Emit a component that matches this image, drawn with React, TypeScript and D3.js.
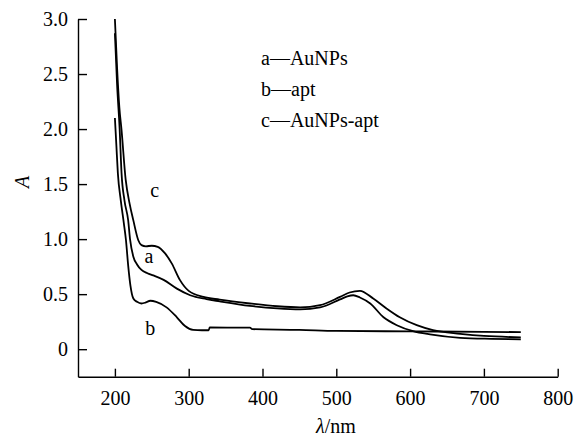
import React, { useEffect, useRef } from "react";
import * as d3 from "d3";

const xTicks = [200, 300, 400, 500, 600, 700, 800];
const yTicks = [0, 0.5, 1.0, 1.5, 2.0, 2.5, 3.0];

// curve a — AuNPs
const aWave = [200, 203, 206.5, 209, 213, 218, 220.5, 225, 230, 236, 244, 252, 266, 284, 302, 324, 342, 383, 420, 451, 478, 505, 515, 523, 532, 546, 564, 582, 604, 627, 668, 710, 750];
const aAbs = [2.87, 2.4, 1.99, 1.6, 1.35, 1.17, 1.0, 0.84, 0.77, 0.72, 0.69, 0.67, 0.63, 0.55, 0.49, 0.455, 0.435, 0.394, 0.37, 0.361, 0.379, 0.452, 0.48, 0.49, 0.47, 0.415, 0.29, 0.218, 0.164, 0.134, 0.103, 0.094, 0.09];

// curve b — apt
const bWave = [200, 202, 204, 208, 212, 215, 218, 221, 225, 230, 236, 242, 248, 256, 270, 284, 295, 306, 318, 327, 328.5, 360, 383, 386, 450, 500, 600, 700, 750];
const bAbs = [2.1, 1.85, 1.6, 1.35, 1.15, 0.99, 0.76, 0.58, 0.46, 0.43, 0.415, 0.425, 0.44, 0.43, 0.38, 0.29, 0.21, 0.175, 0.172, 0.172, 0.197, 0.196, 0.195, 0.182, 0.176, 0.166, 0.162, 0.158, 0.155];

// curve c — AuNPs-apt
const cWave = [200, 203, 206, 209, 214.6, 220, 225, 231.7, 236, 242, 250, 258, 268, 277, 288, 300, 320, 342, 383, 420, 451, 478, 505, 518, 532, 550, 568, 586, 609, 631, 668, 700, 750];
const cAbs = [3.0, 2.55, 2.2, 1.99, 1.54, 1.32, 1.17, 0.99, 0.945, 0.935, 0.94, 0.93, 0.87, 0.78, 0.63, 0.53, 0.475, 0.45, 0.415, 0.39, 0.38, 0.4, 0.475, 0.515, 0.53, 0.46, 0.37, 0.29, 0.218, 0.173, 0.14, 0.12, 0.108];

const legendLines = ["a\u2014AuNPs", "b\u2014apt", "c\u2014AuNPs-apt"];
const curveLabels = ["a", "b", "c"];
const curveLabelAt = [[246, 0.78], [248, 0.13], [254, 1.38]];

const FONT = "Liberation Serif, Times New Roman, serif";
const FS = "20px";

export default function App() {
  const ref = useRef<SVGSVGElement>(null);

  useEffect(() => {
    const svg = d3.select(ref.current);
    svg.selectAll("*").remove();

    const x = d3.scaleLinear().domain([150, 800]).range([78, 557.7]);
    const y = d3.scaleLinear().domain([-0.25, 3.0]).range([376.7, 19]);

    const gx = svg.append("g").attr("transform", "translate(0,376.7)")
      .call(d3.axisBottom(x).tickValues(xTicks).tickSize(-8).tickSizeOuter(0).tickPadding(14).tickFormat(d3.format("d")));
    const gy = svg.append("g").attr("transform", "translate(78,0)")
      .call(d3.axisLeft(y).tickValues(yTicks).tickSize(-9).tickSizeOuter(0).tickPadding(10)
        .tickFormat((d: any) => (d === 0 ? "0" : d3.format(".1f")(d))));

    [gx, gy].forEach((g) => {
      g.attr("font-family", null).attr("font-size", null);
      g.selectAll("path").attr("stroke", "#000").attr("stroke-width", 1.4);
      g.selectAll("line").attr("stroke", "#000").attr("stroke-width", 1.4);
      g.selectAll("text").style("font-family", FONT).style("font-size", FS).attr("fill", "#000");
    });

    const line = d3.line<[number, number]>()
      .x((d) => x(d[0]))
      .y((d) => y(d[1]))
      .curve(d3.curveMonotoneX);

    const series: [number[], number[]][] = [[aWave, aAbs], [bWave, bAbs], [cWave, cAbs]];
    series.forEach(([w, a]) => {
      const pts = w.map((v, i) => [v, a[i]] as [number, number]);
      svg.append("path").attr("d", line(pts) as string)
        .attr("fill", "none").attr("stroke", "#000").attr("stroke-width", 1.8);
    });

    curveLabels.forEach((t, i) => {
      svg.append("text").attr("x", x(curveLabelAt[i][0])).attr("y", y(curveLabelAt[i][1]))
        .attr("text-anchor", "middle").style("font-family", FONT).style("font-size", FS).text(t);
    });

    legendLines.forEach((t, i) => {
      svg.append("text").attr("x", 261).attr("y", 65 + i * 31)
        .style("font-family", FONT).style("font-size", FS).text(t);
    });

    svg.append("text").attr("transform", "translate(29,182) rotate(-90)")
      .attr("text-anchor", "middle").style("font-family", FONT).style("font-size", FS)
      .style("font-style", "italic").text("A");

    const xl = svg.append("text").attr("x", 336).attr("y", 433).attr("text-anchor", "middle")
      .style("font-family", FONT).style("font-size", FS);
    xl.append("tspan").style("font-style", "italic").text("\u03bb");
    xl.append("tspan").text("/nm");
  }, []);

  return (
    <svg ref={ref} width={574} height={436}
      style={{ position: "absolute", left: 0, top: 0, background: "#fff" }} />
  );
}
